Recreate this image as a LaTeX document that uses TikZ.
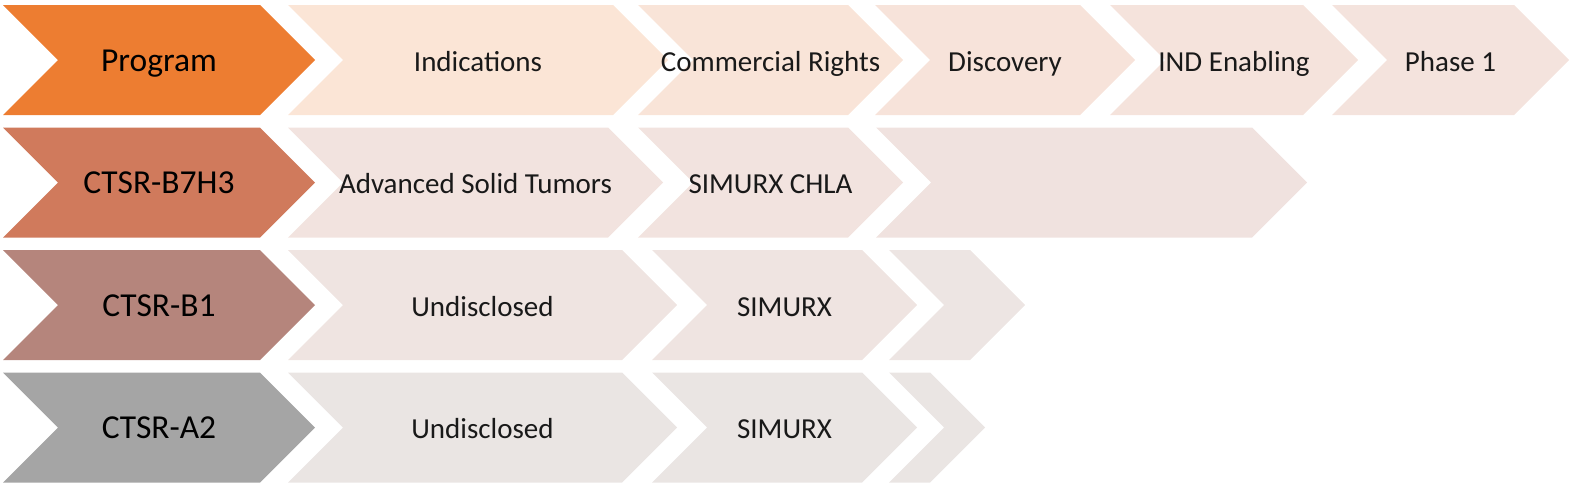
\documentclass[tikz,border=0pt]{standalone}
\usepackage{fontspec}
\setmainfont{Carlito}
\definecolor{cProg}{HTML}{ED7D31}
\definecolor{cB7}{HTML}{D07A5C}
\definecolor{cB1}{HTML}{B5857C}
\definecolor{cA2}{HTML}{A5A5A5}
\definecolor{lA}{HTML}{FBE5D6}
\definecolor{lB}{HTML}{F9E4D8}
\definecolor{lC}{HTML}{F7E3DA}
\definecolor{lD}{HTML}{F5E3DC}
\definecolor{lE}{HTML}{F4E3DD}
\definecolor{lF}{HTML}{F2E3DF}
\definecolor{lG}{HTML}{F0E2DF}
\definecolor{lH}{HTML}{EFE4E1}
\definecolor{lI}{HTML}{EDE5E3}
\definecolor{lJ}{HTML}{EAE5E3}
\tikzset{
  headlbl/.style={font=\fontsize{33.5}{38}\selectfont, text=black, inner sep=0pt, anchor=base},
  celllbl/.style={font=\fontsize{29}{33}\selectfont, text=black!90, inner sep=0pt, anchor=base},
}
% #1 name, #2 left x, #3 right x (top corner), #4 top y, #5 fill, #6 label style, #7 text
\newcommand\chevron[7]{%
  \fill[#5] (#2,#4) -- (#3,#4) -- (#3+55,#4+55) -- (#3,#4+110) -- (#2,#4+110) -- (#2+55,#4+55) -- cycle;
  \node[#6] (#1) at ({(#2+#3)/2+27.5},#4+66) {#7};
}
\begin{document}
\begin{tikzpicture}[x=1pt,y=-1pt]
\useasboundingbox (0,0) rectangle (1574,488);
% row 1
\chevron{prog}{3}{260}{5}{cProg}{headlbl}{Program}
\chevron{ind}{288}{613}{5}{lA}{celllbl}{Indications}
\chevron{rights}{638}{848}{5}{lB}{celllbl}{Commercial Rights}
\chevron{disc}{875}{1080}{5}{lC}{celllbl}{Discovery}
\chevron{indE}{1110}{1303}{5}{lD}{celllbl}{IND Enabling}
\chevron{ph1}{1332}{1514}{5}{lE}{celllbl}{Phase 1}
% row 2
\chevron{b7}{3}{260}{127.5}{cB7}{headlbl}{CTSR-B7H3}
\chevron{b7ind}{288}{608}{127.5}{lF}{celllbl}{Advanced Solid Tumors}
\chevron{b7r}{638}{848}{127.5}{lF}{celllbl}{SIMURX CHLA}
\chevron{b7p}{876}{1252}{127.5}{lG}{celllbl}{}
% row 3
\chevron{b1}{3}{260}{250}{cB1}{headlbl}{CTSR-B1}
\chevron{b1ind}{288}{622}{250}{lH}{celllbl}{Undisclosed}
\chevron{b1r}{652}{862}{250}{lH}{celllbl}{SIMURX}
\chevron{b1p}{889}{970}{250}{lI}{celllbl}{}
% row 4
\chevron{a2}{3}{260}{372.5}{cA2}{headlbl}{CTSR-A2}
\chevron{a2ind}{288}{622}{372.5}{lJ}{celllbl}{Undisclosed}
\chevron{a2r}{652}{862}{372.5}{lJ}{celllbl}{SIMURX}
\chevron{a2p}{889}{930}{372.5}{lJ}{celllbl}{}
\end{tikzpicture}
\end{document}
